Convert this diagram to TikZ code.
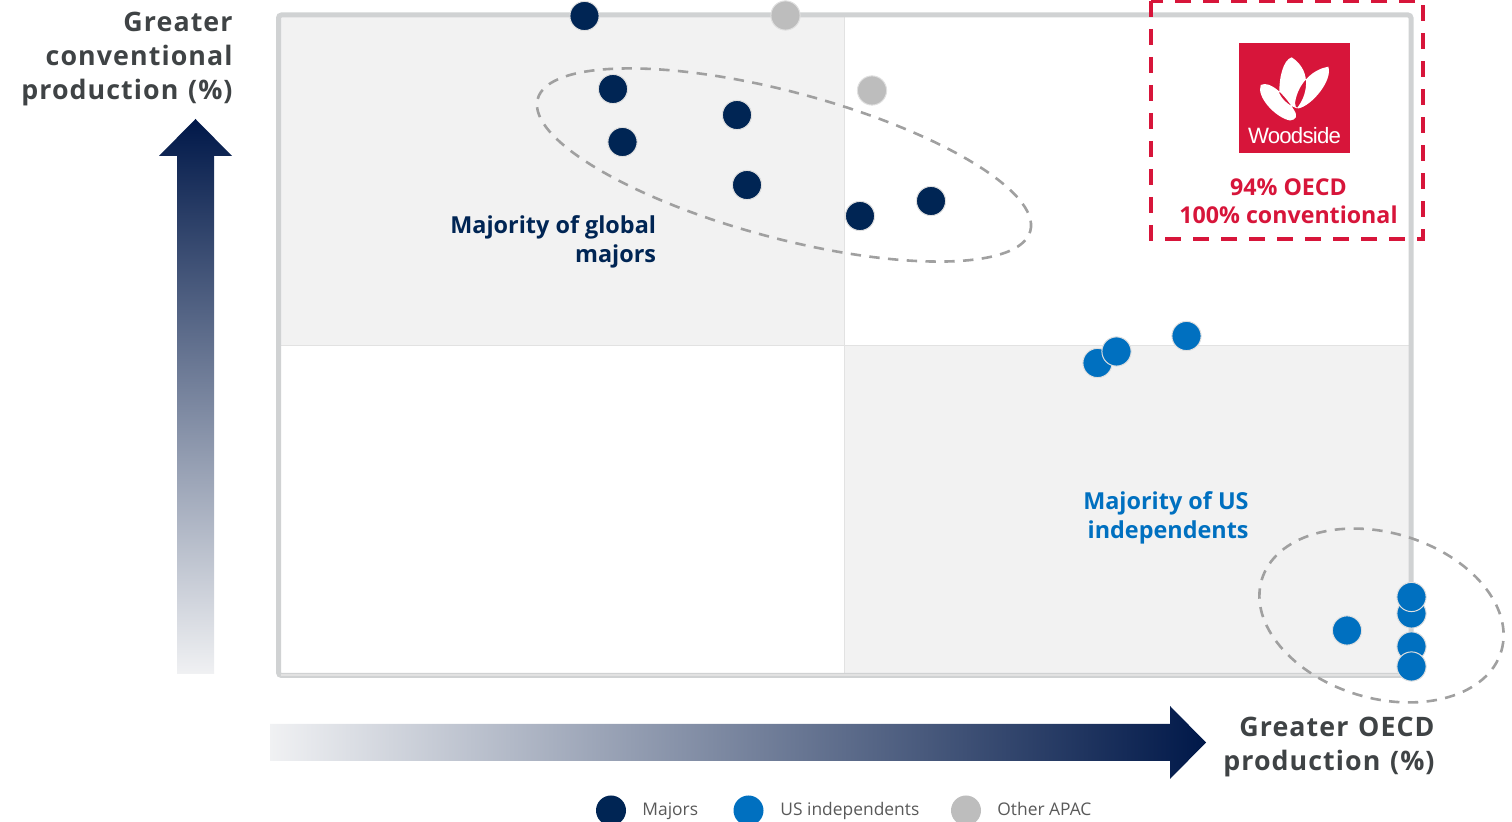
\documentclass[tikz,border=0pt]{standalone}
\usepackage{fontspec}
\setmainfont{Open Sans}
\newfontfamily\spaced[LetterSpace=4,WordSpace=1.2]{Open Sans}
\newfontfamily\logofont[LetterSpace=-3.5]{Liberation Sans}
\usetikzlibrary{shapes.geometric}
\definecolor{navy}{HTML}{002554}
\definecolor{arrownavy}{HTML}{001849}
\definecolor{arrowmid}{HTML}{68738E}
\definecolor{arrowlight}{HTML}{F0F1F3}
\definecolor{usblue}{HTML}{0070C0}
\definecolor{apacgrey}{HTML}{BDBDBD}
\definecolor{framegrey}{HTML}{D0D2D3}
\definecolor{quadgrey}{HTML}{F2F2F2}
\definecolor{gridgrey}{HTML}{E2E2E2}
\definecolor{wred}{HTML}{D7153A}
\definecolor{axistext}{HTML}{3F4345}
\definecolor{legtext}{HTML}{595959}
\definecolor{ringgrey}{HTML}{A0A0A0}
\tikzset{
  dot/.style={circle,minimum size=14.6pt,inner sep=0pt,draw=white!88!black,line width=.5pt},
  major/.style={dot,fill=navy},
  indep/.style={dot,fill=usblue},
  apac/.style={dot,fill=apacgrey},
  legdot/.style={circle,minimum size=15pt,inner sep=0pt},
  ring/.style={ellipse,draw=ringgrey,line width=1.3pt,dash pattern=on 5.2pt off 4.2pt,inner sep=0pt},
  axislabel/.style={align=right,text=axistext,font=\fontsize{13.4}{17}\selectfont\spaced\bfseries,inner sep=0pt},
  quadlabel/.style={align=right,font=\fontsize{11.7}{14.5}\selectfont\bfseries,inner sep=0pt},
  legend/.style={anchor=base west,text=legtext,font=\fontsize{8.7}{11}\selectfont,inner sep=0pt},
}
\begin{document}
\begin{tikzpicture}[x=.5pt,y=-.5pt]
\useasboundingbox (0,0) rectangle (1512,822);
% quadrants and frame
\fill[quadgrey] (281,17) rectangle (845,345.5);
\fill[quadgrey] (845,345.5) rectangle (1409,674);
\draw[gridgrey,line width=.5pt] (281,345.5) -- (1409,345.5);
\draw[gridgrey,line width=.5pt] (844.7,17) -- (844.7,674);
\draw[framegrey,line width=2.5pt,rounded corners=1.5pt] (278.5,15) rectangle (1411,675.5);
\draw[gridgrey,line width=.6pt] (281,675) -- (1409,675);
% axis arrows
\shade[top color=arrownavy,middle color=arrowmid,bottom color=arrowlight]
  (195.5,119) -- (232,156) -- (214,156) -- (214,674) -- (177,674) -- (177,156) -- (159,156) -- cycle;
\shade[left color=arrowlight,middle color=arrowmid,right color=arrownavy]
  (270,724) -- (1170,724) -- (1170,706) -- (1206,742.5) -- (1170,779) -- (1170,761) -- (270,761) -- cycle;
\node[axislabel,anchor=north east] (ylabel) at (233,11.5) {Greater\\conventional\\production (\%)};
\node[axislabel,anchor=north east] (xlabel) at (1435,716.5) {Greater OECD\\production (\%)};
% rings
\node[ring,minimum width=255pt,minimum height=73pt,rotate=-15] (ringmajors) at (784,165) {};
\node[ring,minimum width=125pt,minimum height=82.7pt,rotate=-16.6] (ringus) at (1381.5,615.5) {};
% quadrant labels
\node[quadlabel,anchor=north east,text=navy] (lblmajors) at (656.5,215) {Majority of global\\majors};
\node[quadlabel,anchor=north east,text=usblue] (lblus) at (1249,491) {Majority of US\\independents};
% Woodside box
\draw[wred,line width=2pt,dash pattern=on 8pt off 6pt] (1151,1) rectangle (1423,239);
\fill[wred] (1239,43) rectangle (1350,153);
\fill[white,even odd rule]
  (1291.7,57.3) .. controls (1283,60) and (1279,78) .. (1279.3,93.3) .. controls (1283,101) and (1290,106) .. (1296.7,108.3)
   .. controls (1306,98) and (1314,72) .. (1291.7,57.3) -- cycle
  (1328.3,66.7) .. controls (1314,69) and (1298,82) .. (1295,103) .. controls (1295,106) and (1296,108) .. (1298,108.5)
   .. controls (1312,106) and (1333,80) .. (1328.3,66.7) -- cycle
  (1260.7,85) .. controls (1270,80) and (1285,95) .. (1294,110) .. controls (1298,116) and (1296,120) .. (1290,120.5)
   .. controls (1276,118) and (1256,97) .. (1260.7,85) -- cycle;
\node[text=white,font=\fontsize{11.1}{13}\selectfont\logofont,inner sep=0pt,anchor=base] (logotext) at (1294.5,143.5) {Woodside};
\node[align=center,text=wred,font=\fontsize{11.6}{14}\selectfont\bfseries,inner sep=0pt,anchor=north] (wlabel) at (1288.5,178.5) {94\% OECD\\100\% conventional};
% dots
\node[major] (m1) at (584.5,16) {};
\node[apac] (a1) at (785.5,15.5) {};
\node[major] (m2) at (613,89) {};
\node[major] (m3) at (737,115) {};
\node[major] (m4) at (622.5,142) {};
\node[major] (m5) at (747,185) {};
\node[major] (m6) at (860,216) {};
\node[major] (m7) at (931,201) {};
\node[apac] (a2) at (872,90.5) {};
\node[indep] (u1) at (1097.5,363) {};
\node[indep] (u2) at (1116.5,351.5) {};
\node[indep] (u3) at (1186.5,336) {};
\node[indep] (u4) at (1347,630.5) {};
\node[indep] (u5) at (1411.5,613.5) {};
\node[indep] (u6) at (1411.5,597) {};
\node[indep] (u7) at (1411.5,646.5) {};
\node[indep] (u8) at (1411.5,666.5) {};
% legend
\node[legdot,fill=navy] (k1) at (611,810.5) {};
\node[legdot,fill=usblue] (k2) at (748.5,810.5) {};
\node[legdot,fill=apacgrey] (k3) at (966,810.5) {};
\node[legend] (t1) at (642,815.5) {Majors};
\node[legend] (t2) at (780,815.5) {US independents};
\node[legend] (t3) at (997,815.5) {Other APAC};
\end{tikzpicture}
\end{document}
